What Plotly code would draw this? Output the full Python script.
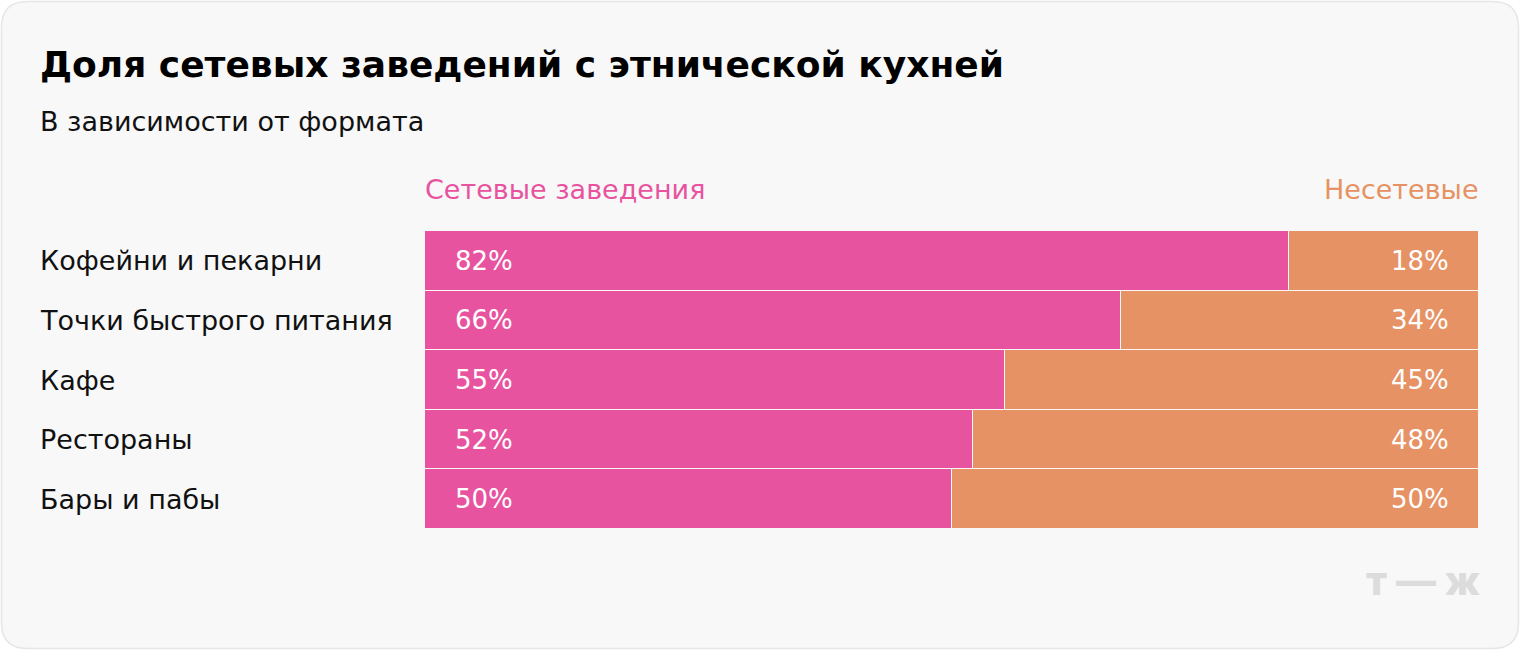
import plotly.graph_objects as go

categories = ["Кофейни и пекарни", "Точки быстрого питания", "Кафе", "Рестораны", "Бары и пабы"]
chain = [82, 66, 55, 52, 50]
non_chain = [18, 34, 45, 48, 50]
series_names = ["Сетевые заведения", "Несетевые"]

PINK = "#E8539F"
ORANGE = "#E69264"
BG = "#F8F8F8"
FONT = "DejaVu Sans, sans-serif"

W, H = 1520, 650
L, R, T, B = 425, 1479, 231, 529

def px(x):
    return (x - L) / (R - L)

def py(y):
    return (B - y) / (B - T)

fig = go.Figure()
fig.add_trace(go.Bar(y=categories, x=chain, orientation="h", name=series_names[0],
                     marker=dict(color=PINK, line=dict(color=BG, width=1)), hoverinfo="x+y"))
fig.add_trace(go.Bar(y=categories, x=non_chain, orientation="h", name=series_names[1],
                     marker=dict(color=ORANGE, line=dict(color=BG, width=1)), hoverinfo="x+y"))

# rounded card
r = 26
x0, y0, x1, y1 = 1.5, 1.5, 1518.5, 648.5
pts = [
    f"M {px(x0 + r)},{py(y0)}",
    f"L {px(x1 - r)},{py(y0)}",
    f"Q {px(x1)},{py(y0)} {px(x1)},{py(y0 + r)}",
    f"L {px(x1)},{py(y1 - r)}",
    f"Q {px(x1)},{py(y1)} {px(x1 - r)},{py(y1)}",
    f"L {px(x0 + r)},{py(y1)}",
    f"Q {px(x0)},{py(y1)} {px(x0)},{py(y1 - r)}",
    f"L {px(x0)},{py(y0 + r)}",
    f"Q {px(x0)},{py(y0)} {px(x0 + r)},{py(y0)} Z",
]
fig.add_shape(type="path", path=" ".join(pts), xref="paper", yref="paper",
              fillcolor=BG, line=dict(color="#E6E6E6", width=1.5), layer="below")

ann = []
ann.append(dict(text="Доля сетевых заведений с этнической кухней", x=px(40), y=py(64),
                xanchor="left", yanchor="middle", showarrow=False, xshift=-2,
                font=dict(family=FONT, size=36, color="#000000", weight=700)))
ann.append(dict(text="В зависимости от формата", x=px(40), y=py(121),
                xanchor="left", yanchor="middle", showarrow=False, xshift=-2,
                font=dict(family=FONT, size=27, color="#111111")))
ann.append(dict(text=series_names[0], x=0, y=py(190), xanchor="left", yanchor="middle",
                showarrow=False, xshift=-2, font=dict(family=FONT, size=27, color=PINK)))
ann.append(dict(text=series_names[1], x=1, y=py(190), xanchor="right", yanchor="middle",
                showarrow=False, xshift=2, font=dict(family=FONT, size=27, color=ORANGE)))
ann.append(dict(text="т — ж", x=1, y=py(580), xanchor="right", yanchor="middle",
                showarrow=False, xshift=3,
                font=dict(family="Inter, sans-serif", size=40, color="#DCDCDC", weight=800)))

for c, a, b in zip(categories, chain, non_chain):
    ann.append(dict(text=c, xref="paper", x=px(40), yref="y", y=c, xanchor="left",
                    yanchor="middle", showarrow=False, xshift=-2,
                    font=dict(family=FONT, size=27, color="#111111")))
    ann.append(dict(text=f"{a}%", xref="x", x=0, yref="y", y=c, xanchor="left", xshift=28,
                    yanchor="middle", showarrow=False,
                    font=dict(family=FONT, size=26, color="#FFFFFF")))
    ann.append(dict(text=f"{b}%", xref="x", x=100, yref="y", y=c, xanchor="right", xshift=-28,
                    yanchor="middle", showarrow=False,
                    font=dict(family=FONT, size=26, color="#FFFFFF")))

for a in ann:
    a.setdefault("xref", "paper")
    a.setdefault("yref", "paper")

fig.update_layout(
    width=W, height=H,
    margin=dict(l=L, r=W - R, t=T, b=H - B, pad=0),
    barmode="stack", bargap=0,
    paper_bgcolor="#FFFFFF", plot_bgcolor=BG,
    showlegend=False,
    xaxis=dict(range=[0, 100], visible=False, fixedrange=True),
    yaxis=dict(autorange="reversed", visible=False, fixedrange=True),
    annotations=ann,
    font=dict(family=FONT),
)

fig.write_html("out.html", config={"displayModeBar": False})
